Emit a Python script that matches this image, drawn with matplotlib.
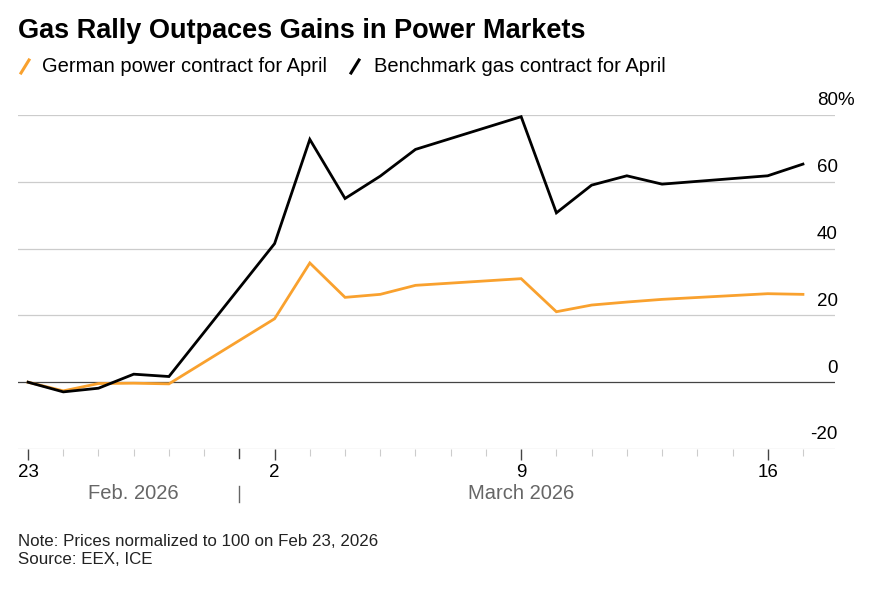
import matplotlib
matplotlib.use("Agg")
import matplotlib.pyplot as plt
import matplotlib.dates as mdates
from matplotlib.lines import Line2D
import datetime as dt

plt.rcParams['font.family'] = ['Liberation Sans', 'DejaVu Sans']

# trading days
dates = ["2026-02-23", "2026-02-24", "2026-02-25", "2026-02-26", "2026-02-27",
         "2026-03-02", "2026-03-03", "2026-03-04", "2026-03-05", "2026-03-06",
         "2026-03-09", "2026-03-10", "2026-03-11", "2026-03-12", "2026-03-13",
         "2026-03-16", "2026-03-17"]
# % change since Feb 23
power = [0, -2.6, -0.4, -0.3, -0.5,
         19.0, 35.7, 25.4, 26.3, 29.0,
         31.0, 21.1, 23.1, 24.0, 24.8,
         26.5, 26.3]
gas = [0, -2.9, -1.8, 2.4, 1.7,
       41.5, 72.7, 55.0, 61.7, 69.7,
       79.5, 50.7, 59.0, 61.8, 59.3,
       61.8, 65.3]
y_ticks = [-20, 0, 20, 40, 60, 80]
x_labels = ['23', '2', '9', '16']

ORANGE = '#f9a12e'
W, H = 885, 589

x = [dt.datetime.strptime(d, "%Y-%m-%d") for d in dates]
xn = mdates.date2num(x)

fig = plt.figure(figsize=(W / 100, H / 100), dpi=100)
ax = fig.add_axes([18 / W, (H - 449) / H, (835 - 18) / W, (449 - 115) / H])

ax.plot(xn, power, color=ORANGE, lw=2.0, solid_joinstyle='miter', zorder=3, clip_on=False)
ax.plot(xn, gas, color='black', lw=2.0, solid_joinstyle='miter', zorder=4, clip_on=False)

ax.set_xlim(xn[0] - 0.285, xn[-1] + 0.91)
ax.set_ylim(-20, 80)

for s in ax.spines.values():
    s.set_visible(False)

# gridlines
for v in y_ticks:
    if v == 0:
        ax.axhline(v, color='#444444', lw=0.9, zorder=2)
    else:
        ax.axhline(v, color='#cccccc', lw=0.9, zorder=1)

# y labels sit above the gridlines on the right
for v in y_ticks:
    ax.annotate(str(v), xy=(1.0, v), xycoords=('axes fraction', 'data'),
                xytext=(2, 4), textcoords='offset points', ha='right', va='bottom',
                fontsize=13.5, color='black', annotation_clip=False)
ax.annotate('%', xy=(1.0, 80), xycoords=('axes fraction', 'data'),
            xytext=(1.5, 4), textcoords='offset points', ha='left', va='bottom',
            fontsize=13.5, color='black', annotation_clip=False)
ax.set_yticks([])

# x ticks
major = [dt.datetime(2026, 2, 23), dt.datetime(2026, 3, 2), dt.datetime(2026, 3, 9), dt.datetime(2026, 3, 16)]
major_n = list(mdates.date2num(major))
ax.set_xticks(major_n)
ax.set_xticklabels(x_labels, fontsize=13.5)
days = mdates.date2num([dt.datetime(2026, 2, 23) + dt.timedelta(days=i) for i in range(25)])
ax.set_xticks([d for d in days if d not in major_n and d <= ax.get_xlim()[1]], minor=True)
ax.tick_params(axis='x', which='major', length=8, width=1, color='#444444', pad=3, labelcolor='black')
ax.tick_params(axis='x', which='minor', length=5, width=0.8, color='#cccccc')

# month boundary tick + divider
mb = mdates.date2num(dt.datetime(2026, 3, 1))
ax.plot([mb, mb], [0, -0.028], transform=ax.get_xaxis_transform(), color='#444444', lw=1, clip_on=False)
ax.plot([mb, mb], [-0.11, -0.16], transform=ax.get_xaxis_transform(), color='#666666', lw=1, clip_on=False)

ax.text((xn[0] + mb) / 2, -0.134, 'Feb. 2026', transform=ax.get_xaxis_transform(),
        ha='center', va='center', fontsize=14.5, color='#666666')
ax.text((mb + xn[-1]) / 2, -0.134, 'March 2026', transform=ax.get_xaxis_transform(),
        ha='center', va='center', fontsize=14.5, color='#666666')

# title and legend
fig.text(18 / W, 1 - 31 / H, 'Gas Rally Outpaces Gains in Power Markets',
         fontsize=19.5, fontweight='bold', ha='left', va='center')
fig.add_artist(Line2D([21 / W, 29 / W], [1 - 73 / H, 1 - 60 / H], color=ORANGE, lw=2.2))
fig.text(42 / W, 1 - 66 / H, 'German power contract for April', fontsize=14.5, ha='left', va='center')
fig.add_artist(Line2D([351 / W, 359 / W], [1 - 73 / H, 1 - 60 / H], color='black', lw=2.2))
fig.text(374 / W, 1 - 66 / H, 'Benchmark gas contract for April', fontsize=14.5, ha='left', va='center')

# notes
fig.text(18 / W, 1 - 541 / H, 'Note: Prices normalized to 100 on Feb 23, 2026',
         fontsize=12.2, ha='left', va='center', color='#222222')
fig.text(18 / W, 1 - 560 / H, 'Source: EEX, ICE',
         fontsize=12.2, ha='left', va='center', color='#222222')

fig.savefig('out.png', dpi=100)
